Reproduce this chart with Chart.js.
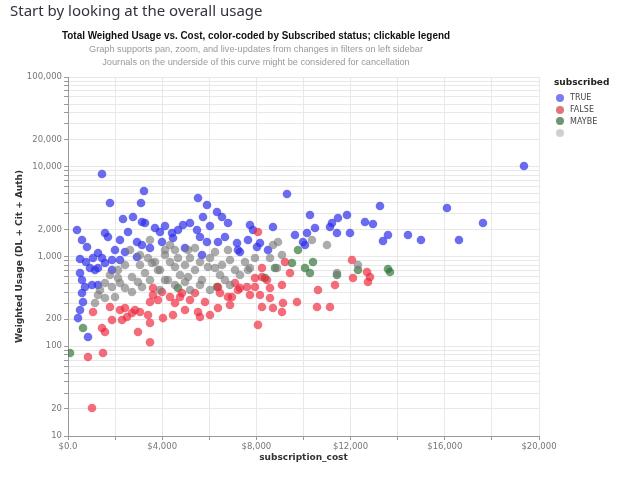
<!DOCTYPE html>
<html>
<head>
<meta charset="utf-8">
<script src="https://cdn.jsdelivr.net/npm/chart.js@4.4.1/dist/chart.umd.min.js"></script>
<style>
  body { margin: 0; background: #fff; }
  #page { position: relative; width: 618px; height: 481px; overflow: hidden; }
  #heading { position: absolute; left: 10px; top: 0px; font: 15px "Noto Sans", sans-serif; color: #31333f; }
  .ttl { position: absolute; left: 0; width: 512px; text-align: center; font-family: "Liberation Sans", Arial, sans-serif; white-space: nowrap; }
  #title { top: 29px; font-size: 11px; font-weight: bold; color: #111; transform: scaleX(0.9); }
  .sub { font-size: 9.2px; color: #999; }
  #legend { position: absolute; left: 554px; top: 77px; font-family: "DejaVu Sans", sans-serif; }
  #legend .lt { font-size: 9px; font-weight: bold; color: #222; margin-bottom: 5px; }
  #legend .it { height: 11.7px; font-size: 8px; color: #444; display: flex; align-items: center; }
  #legend .dot { width: 8px; height: 8px; border-radius: 50%; margin: 0 6px 0 2px; }
  canvas { position: absolute; left: 0; top: 0; }
</style>
</head>
<body>
<div id="page">
  <canvas id="chart" width="618" height="481"></canvas>
  <div id="heading">Start by looking at the overall usage</div>
  <div id="title" class="ttl">Total Weighed Usage vs. Cost, color-coded by Subscribed status; clickable legend</div>
  <div class="ttl sub" style="top:44px">Graph supports pan, zoom, and live-updates from changes in filters on left sidebar</div>
  <div class="ttl sub" style="top:57px">Journals on the underside of this curve might be considered for cancellation</div>
  <div id="legend"></div>
</div>
<script>
// subscribed = TRUE
const trueCost = [1444, 19362, 3227, 1783, 3100, 5520, 5902, 6327, 6539, 5732, 2335, 2760, 3142, 3269, 3694, 3906, 4416, 4883, 5180, 5477,
  5605, 4458, 382, 594, 807, 1571, 1698, 2208, 2930, 3142, 3482, 3991, 2420, 1274, 1444, 1868, 2208, 2930, 510, 934,
  1274, 5902, 6369, 5690, 4968, 510, 594, 1019, 1274, 722, 594, 637, 510, 425, 849, 1146, 1868, 1571, 9299, 13248,
  16092, 17621, 12950, 13587, 13375, 14436, 14988, 16602, 10275, 11464, 11846, 11209, 11125, 11422, 11974, 12611, 8704, 7728, 7855, 8152,
  8025, 8492, 7303, 10488, 10148, 9638, 9978, 10063, 6794, 6666, 7176, 7218, 7643, 764, 1062, 1996, 2548, 4119, 4671, 6029]
const trueUsage = [8300, 10190, 5370, 3950, 3950, 4490, 3750, 3130, 2755, 2755, 2620, 2755, 2420, 2360, 2080, 1875, 1830, 2240, 2360, 1970,
  1650, 1607, 1970, 1528, 1276, 1830, 1650, 1528, 1452, 1343, 1244, 1452, 1122, 1094, 962, 914, 914, 987, 938, 745,
  745, 1452, 1452, 1040, 1244, 655, 547, 481, 481, 457, 392, 311, 253, 206, 127, 707, 707, 847, 4970, 3650,
  3470, 2360, 2300, 1737, 1489, 1737, 1528, 1528, 2900, 2690, 2900, 2360, 2130, 1830, 1830, 2420, 2130, 2240, 1970, 1414,
  1276, 1181, 1122, 2080, 1830, 1737, 1452, 1343, 2360, 1650, 1414, 1181, 1528, 868, 962, 1181, 1875, 2190, 1970, 2190]

// subscribed = FALSE
const falseCost = [849, 1486, 1019, 1444, 1571, 2972, 3482, 1062, 1868, 2293, 2505, 2717, 2845, 3482, 3609, 3397, 3482, 4034, 4458, 4543,
  4840, 5392, 5520, 5605, 5817, 6369, 6454, 6369, 3821, 3609, 3057, 2420, 8067, 8067, 6794, 7600, 7940, 7728, 8577, 8577,
  8237, 8704, 9086, 9129, 9723, 10573, 11125, 10615, 11337, 12101, 12696, 12823, 12059, 9426, 9086, 8237, 8237, 7091, 7303, 12738,
  8450, 7940, 8152, 9214, 3991, 4331, 4756, 6963, 7218, 1783, 2208, 5180, 4968, 6029, 6879]
const falseUsage = [76, 84, 20.5, 160, 144, 144, 111, 241, 196, 196, 212, 235, 253, 311, 372, 223, 182, 206, 223, 303,
  392, 392, 241, 212, 311, 267, 392, 457, 327, 446, 241, 267, 1875, 173, 354, 457, 457, 372, 446, 345,
  274, 267, 241, 303, 311, 274, 274, 424, 481, 576, 672, 591, 914, 655, 481, 745, 591, 507, 446, 520,
  547, 576, 372, 868, 402, 354, 354, 354, 424, 274, 253, 327, 253, 223, 288]

// subscribed = MAYBE
const maybeCost = [637, 85, 9511, 9766, 10403, 10063, 10275, 12313, 13672, 13587, 8365, 11422, 4671, 6327, 8789]
const maybeUsage = [160, 84, 847, 1181, 868, 745, 655, 707, 672, 726, 576, 622, 446, 457, 745]

// subscribed = (blank)
const otherCost = [1146, 1571, 1996, 1868, 2420, 2717, 2123, 2717, 3269, 3821, 4543, 5095, 5690, 5944, 3567, 4246, 3142, 2633, 3057, 3397,
  3694, 4119, 4331, 4671, 4968, 5180, 5392, 5605, 6029, 6242, 6539, 6879, 7091, 6666, 7303, 7515, 7728, 3906, 4119, 4543,
  4756, 2420, 2123, 1783, 1571, 3057, 3482, 5180, 6029, 6879, 8704, 8917, 9086, 8577, 10360, 10997, 11422, 8874, 7643, 12313,
  4119, 4543, 5095, 6794, 7940, 1274, 3482, 4331, 5392, 6242, 2208, 2972, 3906, 5605, 6454, 4968, 1359]
const otherUsage = [303, 345, 354, 457, 446, 402, 576, 591, 655, 707, 764, 591, 547, 764, 847, 547, 457, 1181, 1040, 962,
  868, 1040, 868, 962, 804, 962, 707, 868, 962, 745, 804, 914, 707, 547, 622, 868, 745, 707, 547, 481,
  622, 804, 707, 622, 507, 804, 547, 424, 424, 481, 1343, 1452, 1040, 962, 1528, 1343, 655, 745, 707, 804,
  1181, 1181, 1181, 1181, 962, 372, 1528, 1343, 1244, 1122, 507, 520, 424, 481, 622, 520, 424]

const seriesLabels = ['TRUE', 'FALSE', 'MAYBE', '']
const seriesColors = ['rgba(45, 45, 235, 0.7)', 'rgba(238, 40, 60, 0.68)', 'rgba(45, 115, 55, 0.68)', 'rgba(120, 120, 120, 0.62)']
const legendColors = ['#7b7bf5', '#e2727c', '#6f9474', '#d0d0d0']

const yTickValues = [10, 20, 30, 40, 50, 60, 70, 80, 90, 100, 200, 300, 400, 500, 600, 700, 800, 900,
  1000, 2000, 3000, 4000, 5000, 6000, 7000, 8000, 9000, 10000, 20000, 30000, 40000, 50000, 60000, 70000, 80000, 90000, 100000]
const yTickLabels = [10, 20, 100, 200, 1000, 2000, 10000, 20000, 100000]
const xTickLabels = [0, 4000, 8000, 12000, 16000, 20000]

const toPoints = (xs, ys) => xs.map((x, i) => ({ x: x, y: ys[i] }))
const seriesData = [
  toPoints(trueCost, trueUsage),
  toPoints(falseCost, falseUsage),
  toPoints(maybeCost, maybeUsage),
  toPoints(otherCost, otherUsage)
]

// draw gray first so the colored marks sit on top, like the original
const order = [3, 1, 2, 0]
const datasets = order.map(i => ({
  label: seriesLabels[i],
  data: seriesData[i],
  backgroundColor: seriesColors[i],
  borderWidth: 0,
  pointRadius: 4.3,
  pointHoverRadius: 5
}))

// legend
const legend = document.getElementById('legend')
legend.innerHTML = '<div class="lt">subscribed</div>' + seriesLabels.map((l, i) =>
  `<div class="it"><span class="dot" style="background:${legendColors[i]}"></span>${l}</div>`).join('')

const tickFont = { family: 'DejaVu Sans', size: 8.5 }
const titleFont = { family: 'DejaVu Sans', size: 9, weight: 'bold' }

new Chart(document.getElementById('chart'), {
  type: 'scatter',
  data: { datasets: datasets },
  options: {
    responsive: false,
    animation: false,
    layout: { padding: { left: 10, right: 79, top: 77, bottom: 14 } },
    plugins: {
      legend: { display: false },
      tooltip: { enabled: true }
    },
    scales: {
      x: {
        type: 'linear',
        min: 0,
        max: 20000,
        afterFit: (scale) => { scale.height = 31 },
        ticks: {
          stepSize: 2000,
          color: '#777',
          font: tickFont,
          padding: 2,
          maxRotation: 0,
          autoSkip: false,
          callback: (value) => xTickLabels.includes(value) ? (value === 0 ? '$0.0' : '$' + value.toLocaleString('en-US')) : ''
        },
        grid: { color: '#e8e8e8', tickColor: '#999', tickLength: 4 },
        border: { color: '#999' },
        title: { display: true, text: 'subscription_cost', color: '#333', font: titleFont, padding: { top: 2, bottom: 4 } }
      },
      y: {
        type: 'logarithmic',
        min: 10,
        max: 100000,
        afterFit: (scale) => { scale.width = 58 },
        afterBuildTicks: (scale) => { scale.ticks = yTickValues.map(v => ({ value: v })) },
        ticks: {
          color: '#777',
          font: tickFont,
          padding: 2,
          autoSkip: false,
          callback: (value) => yTickLabels.includes(value) ? value.toLocaleString('en-US') : ''
        },
        grid: { color: '#e8e8e8', tickColor: '#999', tickLength: 4 },
        border: { color: '#999' },
        title: { display: true, text: 'Weighted Usage (DL + Cit + Auth)', color: '#333', font: titleFont, padding: { top: 4, bottom: 4 } }
      }
    }
  }
})
</script>
</body>
</html>
